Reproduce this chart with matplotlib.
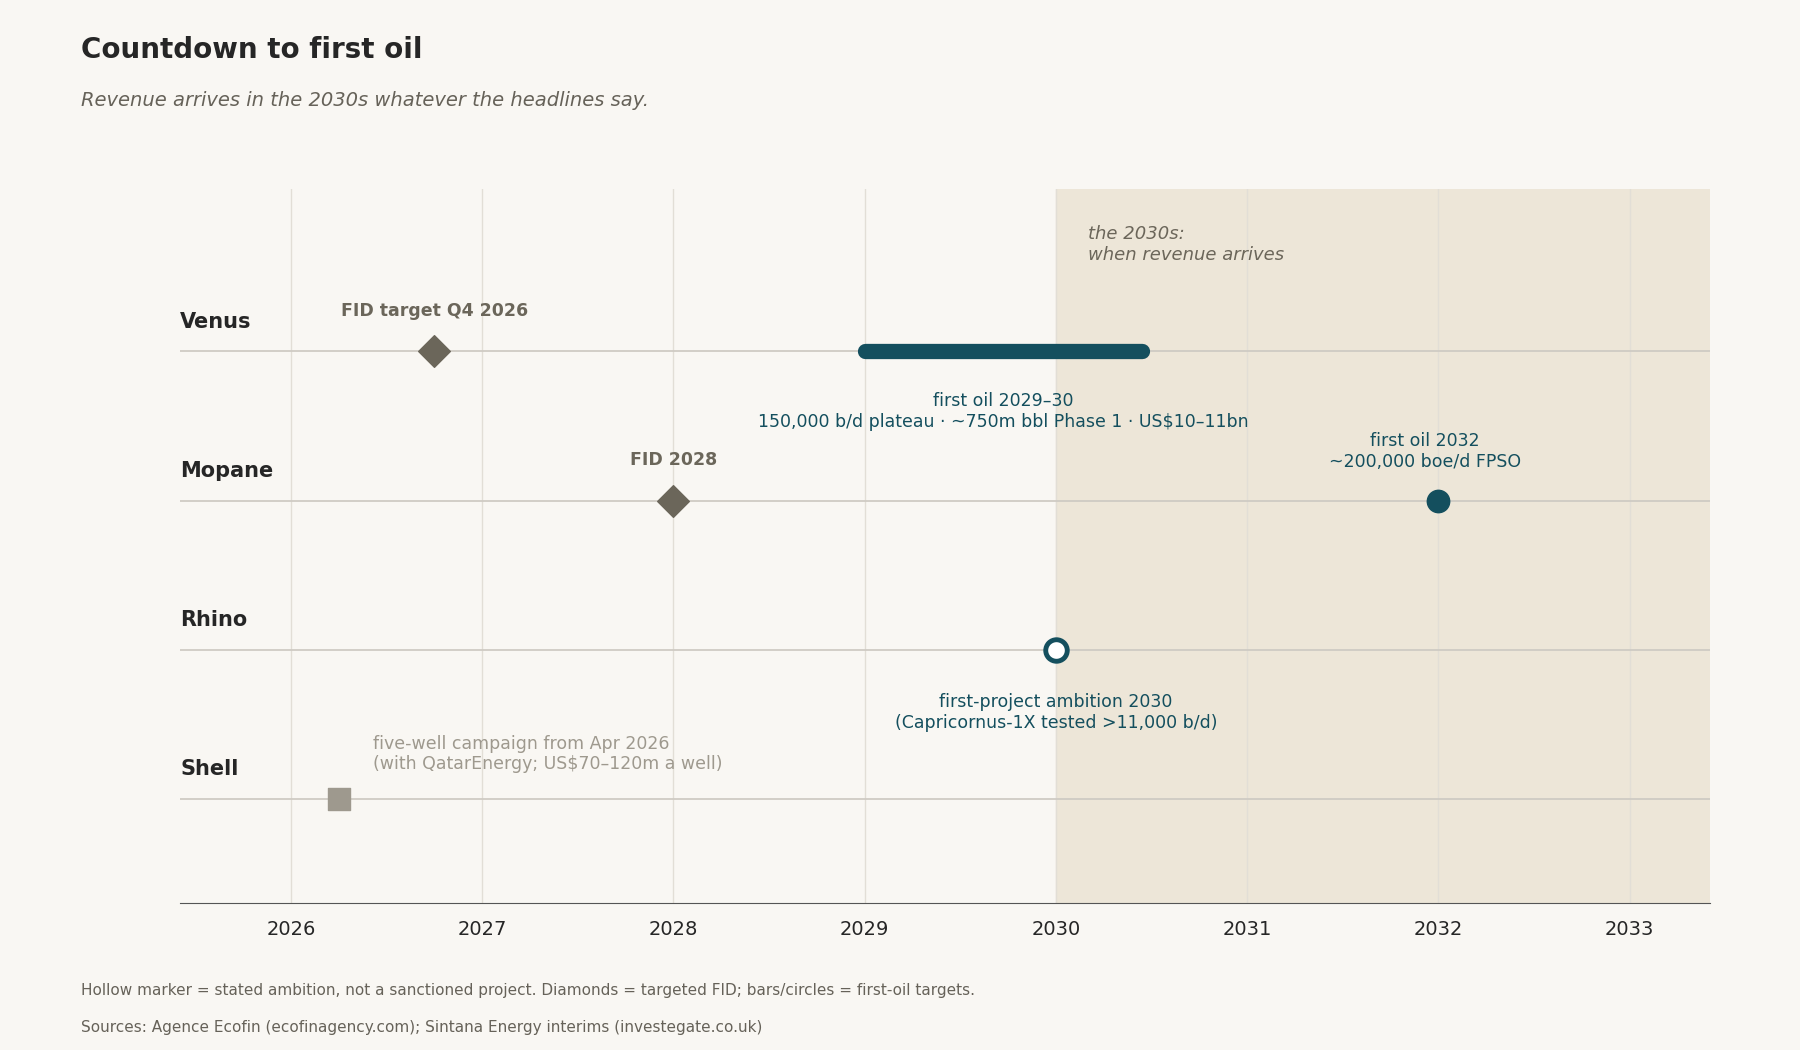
import matplotlib.pyplot as plt

# Project rows (top to bottom)
projects = ["Venus", "Mopane", "Rhino", "Shell"]
rows = [3, 2, 1, 0]
years = [2026, 2027, 2028, 2029, 2030, 2031, 2032, 2033]

fid_dates = [2026.75, 2028.0]          # Venus, Mopane
fid_rows = [3, 2]
fid_labels = ["FID target Q4 2026", "FID 2028"]

venus_first_oil = (2029.0, 2030.45)
mopane_first_oil = 2032.0
rhino_ambition = 2030.0
shell_campaign = 2026.25

BG = "#f9f7f3"
TEAL = "#144f5e"
GREY = "#6b665a"
LIGHT = "#9e998e"
DARK = "#262626"

fig = plt.figure(figsize=(18, 10.5), dpi=100, facecolor=BG)
ax = fig.add_axes([0.100, 0.140, 0.850, 0.680], facecolor=BG)
ax.set_xlim(2025.42, 2033.42)
ax.set_ylim(-0.7, 4.09)

ax.axvspan(2030, 2033.42, color="#ede6d8", zorder=0)
for yr in years:
    ax.axvline(yr, color="#e2ded6", lw=1, zorder=1)
for r in rows:
    ax.axhline(r, color="#cfcbc4", lw=1.3, zorder=2)

ax.text(2030.17, 3.72, "the 2030s:\nwhen revenue arrives", style="italic",
        fontsize=13, color=GREY, va="center", ha="left")

for name, r in zip(projects, rows):
    ax.text(2025.42, r + 0.2, name, fontsize=15, fontweight="bold", color=DARK,
            ha="left", va="center")

for x, r, lab in zip(fid_dates, fid_rows, fid_labels):
    ax.scatter(x, r, marker="D", s=260, color=GREY, zorder=4)
    ax.text(x, r + 0.27, lab, fontsize=12.5, fontweight="bold", color=GREY,
            ha="center", va="center")

ax.plot(venus_first_oil, [3, 3], color=TEAL, lw=11, solid_capstyle="round", zorder=4)
ax.text(sum(venus_first_oil) / 2, 2.6,
        "first oil 2029\u201330\n150,000 b/d plateau \u00b7 ~750m bbl Phase 1 \u00b7 US$10\u201311bn",
        fontsize=12.5, color=TEAL, ha="center", va="center", linespacing=1.2)

ax.scatter(mopane_first_oil, 2, s=260, color=TEAL, zorder=4)
ax.text(mopane_first_oil - 0.07, 2.33, "first oil 2032\n~200,000 boe/d FPSO",
        fontsize=12.5, color=TEAL, ha="center", va="center", linespacing=1.2)

ax.scatter(rhino_ambition, 1, s=240, facecolor="white", edgecolor=TEAL,
           linewidth=3.5, zorder=4)
ax.text(rhino_ambition, 0.58, "first-project ambition 2030\n(Capricornus-1X tested >11,000 b/d)",
        fontsize=12.5, color=TEAL, ha="center", va="center", linespacing=1.2)

ax.scatter(shell_campaign, 0, marker="s", s=240, color=LIGHT, zorder=4)
ax.text(2026.43, 0.3, "five-well campaign from Apr 2026\n(with QatarEnergy; US$70\u2013120m a well)",
        fontsize=12.5, color=LIGHT, ha="left", va="center", linespacing=1.2)

for s in ["top", "right", "left"]:
    ax.spines[s].set_visible(False)
ax.spines["bottom"].set_color("#555555")
ax.set_yticks([])
ax.set_xticks(years)
ax.set_xticklabels([str(y) for y in years], fontsize=14, color=DARK)
ax.tick_params(axis="x", length=0, pad=12)

fig.text(0.045, 0.952, "Countdown to first oil", fontsize=20, fontweight="bold",
         color=DARK, va="center")
fig.text(0.045, 0.904, "Revenue arrives in the 2030s whatever the headlines say.",
         fontsize=14, style="italic", color="#666259", va="center")
fig.text(0.045, 0.057, "Hollow marker = stated ambition, not a sanctioned project. "
         "Diamonds = targeted FID; bars/circles = first-oil targets.",
         fontsize=11, color="#666259", va="center")
fig.text(0.045, 0.021, "Sources: Agence Ecofin (ecofinagency.com); Sintana Energy interims (investegate.co.uk)",
         fontsize=11, color="#666259", va="center")

fig.savefig("out.png", dpi=100, facecolor=BG)
